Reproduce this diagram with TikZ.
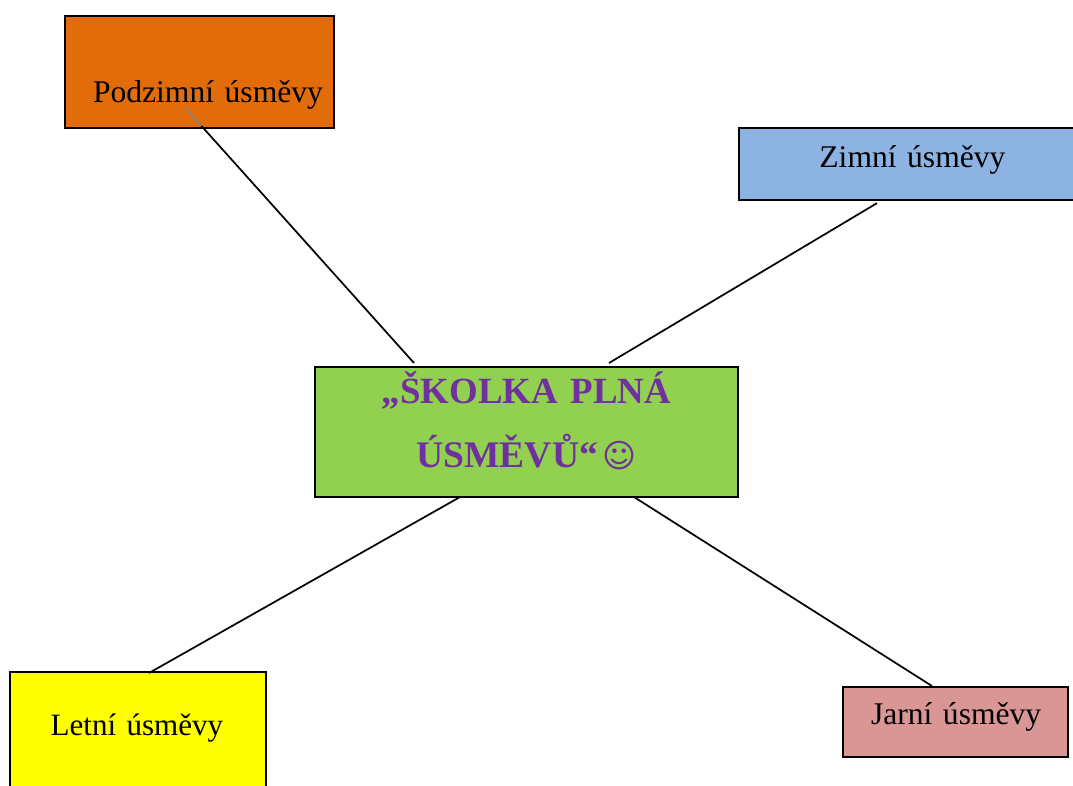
\documentclass[tikz,border=0pt]{standalone}
\usepackage{fontspec}
\setmainfont{Liberation Serif}
\newfontfamily\smileyfont{DejaVu Sans}
\usepackage{xcolor}
\usetikzlibrary{calc}
\definecolor{podzimcolor}{HTML}{E36C0A}
\definecolor{zimacolor}{HTML}{8DB3E2}
\definecolor{skolkacolor}{HTML}{92D050}
\definecolor{letocolor}{HTML}{FFFF00}
\definecolor{jarocolor}{HTML}{D99694}
\definecolor{titlecolor}{HTML}{7030A0}

\begin{document}
\begin{tikzpicture}[x=.75pt,y=-.75pt,
	box/.style={draw,line width=1.4pt,anchor=north west,inner sep=0pt,outer sep=0pt,align=left,font=\fontsize{23.7}{28}\selectfont},
	link/.style={line width=1.3pt}]
	\path[use as bounding box,clip] (0,0) rectangle (1073,785);

	\node[box,fill=podzimcolor,text width=201.75pt,text height=64.5pt,text depth=19.5pt] (podzimni) at (65,16) {\hspace*{21pt}Podzimní úsměvy};
	\node[box,fill=zimacolor,text width=252pt,text height=29.3pt,text depth=24.8pt] (zimni) at (739,128) {\hspace*{60.3pt}Zimní úsměvy};
	\node[box,fill=skolkacolor,text width=317.25pt,text height=27pt,text depth=70.5pt,align=center,text=titlecolor,font=\fontsize{27.7}{48}\selectfont\bfseries] (skolka) at (315,367) {„ŠKOLKA PLNÁ\\{\spaceskip=3.5pt\fontsize{28.2}{48}\selectfont ÚSMĚVŮ“ {\smileyfont\fontsize{24.5}{48}\selectfont ☺}}};
	\node[box,fill=letocolor,text width=192pt,text height=47.25pt,text depth=41.25pt,font=\fontsize{23.3}{28}\selectfont] (letni) at (10,672) {\hspace*{30.5pt}Letní úsměvy};
	\node[box,fill=jarocolor,text width=168.75pt,text height=27.75pt,text depth=24.75pt] (jarni) at (843,687) {\hspace*{21pt}Jarní úsměvy};

	\draw[link,gray] ($(podzimni.south)+(-14,-20)$) -- ($(podzimni.south)+(2,-2)$);
	\draw[link] ($(podzimni.south)+(2,-2)$) -- ($(skolka.north)+(-112.5,-4)$);
	\draw[link] ($(zimni.south)+(-30,3)$) -- ($(skolka.north)+(82.5,-4)$);
	\draw[link] ($(skolka.south)+(-66.5,0)$) -- ($(letni.north)+(11,1)$);
	\draw[link] ($(skolka.south)+(107.5,0)$) -- ($(jarni.north)+(-23.5,-1)$);
\end{tikzpicture}
\end{document}
